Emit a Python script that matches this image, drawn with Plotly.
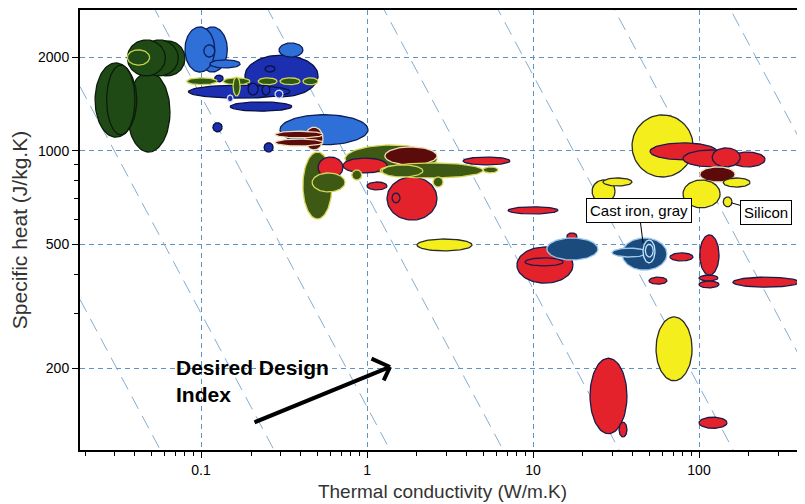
import math
import numpy as np
import plotly.graph_objects as go

# ---------------- data ----------------
# Each material bubble: conductivity range (W/m.K), specific-heat range (J/kg.K), family
K_LO = [0.036, 0.023, 0.027, 0.049, 0.043, 0.036, 0.036,
        0.095, 0.080, 0.104, 0.113,
        0.184, 0.295, 0.084, 0.150, 0.243, 0.192, 0.233, 0.144, 0.279, 0.121,
        0.082, 0.136, 0.221, 0.299, 0.411, 0.156,
        0.118, 0.240,
        0.299, 0.423, 0.279, 0.279,
        0.411, 0.507, 0.467, 0.737, 0.716, 1.28, 1.32, 1.20, 1.23, 5.0, 0.81, 2.50, 1.0, 1.415, 3.79, 7.07,
        2.0,
        39.5, 50.7, 80.1, 154, 120, 101, 140, 22.7, 26.4, 80.1, 140,
        8.0, 8.95, 16.0, 12.1, 34.4, 29.9, 46.0, 47.5, 66.8, 50.0, 101, 100, 100, 160,
        22.05, 33.0, 55.1, 100]
K_HI = [0.065, 0.041, 0.040, 0.080, 0.073, 0.061, 0.049,
        0.144, 0.121, 0.121, 0.172,
        0.507, 0.411, 0.344, 0.353, 0.279, 0.221, 0.260, 0.156, 0.312, 0.136,
        0.125, 0.197, 0.287, 0.395, 0.507, 0.172,
        0.134, 0.272,
        1.014, 0.543, 0.543, 0.543,
        0.615, 0.716, 0.737, 2.64, 1.32, 2.64, 2.64, 5.0, 2.17, 6.15, 0.93, 2.87, 1.32, 1.58, 7.26, 14.15,
        4.29,
        92.0, 128, 177, 250, 177, 165, 203, 31.2, 39.5, 134, 158,
        17.4, 15.2, 18.4, 24.6, 64.1, 48.6, 54.3, 53.0, 92.0, 64.1, 132, 130, 132, 400,
        36.8, 36.8, 90.8, 147.5]
CP_LO = [990, 1105, 1125, 1740, 1740, 1740, 1885,
         1790, 1790, 2000, 1845,
         1490, 2000, 1475, 1340, 1790, 1510, 1510, 1435, 1475, 1665,
         1630, 1630, 1630, 1630, 1630, 1500,
         1150, 990,
         1045, 1005, 1100, 1035,
         603, 817, 737, 848, 848, 900, 598, 817, 823, 848, 805, 764, 748, 680, 900, 626,
         476,
         823, 934, 887, 887, 887, 793, 764, 680, 770, 655, 660,
         375, 426, 516, 445, 413, 455, 436, 455, 442, 372, 398, 381, 362, 364,
         123, 120, 182, 128]
CP_HI = [1790, 1915, 1885, 2255, 2270, 2270, 2110,
         2500, 2500, 2190, 1960,
         2030, 2220, 1625, 1435, 1875, 1650, 1625, 1510, 1565, 1750,
         1715, 1715, 1715, 1715, 1715, 1725,
         1230, 1060,
         1305, 1190, 1155, 1090,
         990, 954, 848, 1043, 947, 1028, 823, 913, 900, 887, 867, 823, 793, 731, 954, 660,
         520,
         1303, 1059, 1005, 990, 1021, 887, 817, 805, 817, 805, 710,
         490, 452, 544, 524, 524, 486, 516, 500, 469, 392, 536, 398, 381, 392,
         215, 134, 292, 139]
FAMILY = ["foam"] * 6 + ["foam_hl"] + \
         ["lblue"] * 4 + \
         ["dblue", "lblue", "dblue", "dblue", "dblue", "dblue", "dblue", "dring", "dring", "dblue"] + \
         ["bar"] * 6 + \
         ["dblue", "dblue"] + \
         ["lblue", "maroon", "maroon", "maroon"] + \
         ["olive", "red", "olive", "olive", "red", "maroon", "red", "olive", "olive", "olive",
          "olive", "olive", "red", "red", "red", "red"] + \
         ["yellow"] + \
         ["yellow", "red", "red", "red", "red", "maroon", "yellow", "yellow", "yellow", "yellow", "yellow"] + \
         ["red", "red", "red", "navy", "navy", "navy", "nring", "nring", "red", "red", "red", "red", "red", "red"] + \
         ["red", "red", "yellow", "red"]

# guide lines of constant (conductivity x specific heat)
DIAG_CONST = [6.2, 30, 150, 720, 3600, 17500, 88000, 440000]

X_TICKS = [0.1, 1, 10, 100]
X_TICK_TEXT = ["0.1", "1", "10", "100"]
Y_TICKS = [200, 500, 1000, 2000]
Y_TICK_TEXT = ["200", "500", "1000", "2000"]

X_RANGE = [0.01866, 435]
Y_RANGE = [109, 2834]

STYLE = {
    "foam":   ("#1f4a16", "#0b1d08"),
    "foam_hl": ("#1f4a16", "#c9d24c"),
    "lblue":  ("#2f6fd8", "#0b1f5c"),
    "dblue":  ("#1b2fb0", "#0a1040"),
    "dring":  ("#1b2fb0", "#d0dcf4"),
    "bar":    ("#2e5a14", "#d2d452"),
    "maroon": ("#5c0b0b", "#ecdcb8"),
    "olive":  ("#3e5913", "#d6d65a"),
    "red":    ("#e3222b", "#1b1b4a"),
    "yellow": ("#f4ee1c", "#2a2a2a"),
    "navy":   ("#1b4a7c", "#9cc8ee"),
    "nring":  ("#1b4a7c", "#c0e4ff"),
}

fig = go.Figure()

# diagonal guide lines
for c in DIAG_CONST:
    xs = np.array(X_RANGE)
    fig.add_trace(go.Scatter(x=xs, y=c / xs, mode="lines",
                             line=dict(color="#86aed0", width=1, dash="14px,8px"),
                             hoverinfo="skip", showlegend=False))

t = np.linspace(0, 2 * np.pi, 90)
for klo, khi, clo, chi, fam in zip(K_LO, K_HI, CP_LO, CP_HI, FAMILY):
    cx = (math.log10(klo) + math.log10(khi)) / 2
    rx = (math.log10(khi) - math.log10(klo)) / 2
    cy = (math.log10(clo) + math.log10(chi)) / 2
    ry = (math.log10(chi) - math.log10(clo)) / 2
    fill, edge = STYLE[fam]
    fig.add_trace(go.Scatter(x=10 ** (cx + rx * np.cos(t)), y=10 ** (cy + ry * np.sin(t)),
                             mode="lines", fill="toself", fillcolor=fill,
                             line=dict(color=edge, width=1.3),
                             hoverinfo="skip", showlegend=False))

L = math.log10
annotations = [
    dict(x=L(46), y=L(505), ax=-4, ay=-32, text="Cast iron, gray", showarrow=True,
         arrowhead=0, arrowwidth=1, arrowcolor="black", bgcolor="white",
         bordercolor="black", borderwidth=1, borderpad=3,
         font=dict(family="Arial, Liberation Sans", size=15, color="black")),
    dict(x=L(156), y=L(680), ax=35, ay=10, text="Silicon", showarrow=True,
         arrowhead=0, arrowwidth=1, arrowcolor="black", bgcolor="white",
         bordercolor="black", borderwidth=1, borderpad=3,
         font=dict(family="Arial, Liberation Sans", size=15, color="black")),
    dict(x=L(1.376), y=L(201.6), ax=L(0.2057), ay=L(133.2), axref="x", ayref="y",
         text="", showarrow=True, arrowhead=0, arrowwidth=4, arrowcolor="black", standoff=0),
    dict(x=L(1.376), y=L(201.6), ax=L(1.042), ay=L(215.5), axref="x", ayref="y",
         text="", showarrow=True, arrowhead=0, arrowwidth=4, arrowcolor="black", standoff=0),
    dict(x=L(1.376), y=L(201.6), ax=L(1.248), ay=L(180.4), axref="x", ayref="y",
         text="", showarrow=True, arrowhead=0, arrowwidth=4, arrowcolor="black", standoff=0),
    dict(x=L(0.0690), y=L(222), xanchor="left", yanchor="top", align="left", showarrow=False,
         text="<b>Desired Design<br>Index</b>",
         font=dict(family="Arial, Liberation Sans", size=21, color="black")),
]

minor_x = [m * d for d in [0.01, 0.1, 1, 10, 100] for m in range(2, 10) if X_RANGE[0] < m * d < X_RANGE[1]]
minor_y = [m * d for d in [100, 1000] for m in range(2, 10) if Y_RANGE[0] < m * d < Y_RANGE[1]]

# the page body adds an 8px offset, so the figure is 8px smaller and shifted
fig.update_layout(
    width=797, height=496, autosize=False,
    margin=dict(l=72, r=0, t=2, b=54),
    paper_bgcolor="white", plot_bgcolor="white",
    showlegend=False,
    annotations=annotations,
    xaxis=dict(type="log", range=[L(X_RANGE[0]), L(X_RANGE[1])],
               tickvals=X_TICKS, ticktext=X_TICK_TEXT,
               ticks="outside", ticklen=6, tickwidth=1, tickcolor="black",
               showline=True, linecolor="black", linewidth=2, mirror=True,
               showgrid=True, gridcolor="#5f93c6", griddash="5px,4px", gridwidth=1,
               minor=dict(tickvals=minor_x, ticks="outside", ticklen=4, tickcolor="black", showgrid=False),
               tickfont=dict(family="Arial, Liberation Sans", size=14, color="black"),
               title=dict(text="Thermal conductivity (W/m.K)", standoff=8,
                          font=dict(family="Arial, Liberation Sans", size=19, color="#333333")),
               automargin=False),
    yaxis=dict(type="log", range=[L(Y_RANGE[0]), L(Y_RANGE[1])],
               tickvals=Y_TICKS, ticktext=Y_TICK_TEXT,
               ticks="outside", ticklen=6, tickwidth=1, tickcolor="black",
               showline=True, linecolor="black", linewidth=2,
               showgrid=True, gridcolor="#5f93c6", griddash="5px,4px", gridwidth=1,
               minor=dict(tickvals=minor_y, ticks="outside", ticklen=4, tickcolor="black", showgrid=False),
               tickfont=dict(family="Arial, Liberation Sans", size=14, color="black"),
               title=dict(text="Specific heat (J/kg.K)", standoff=6,
                          font=dict(family="Arial, Liberation Sans", size=21, color="#333333")),
               automargin=False),
)

fig.write_html("out.html")
